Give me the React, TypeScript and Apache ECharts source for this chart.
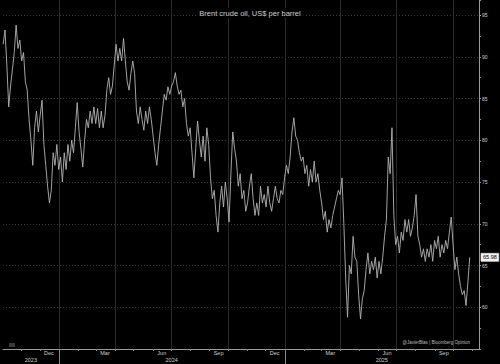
import React, { useEffect, useRef } from "react";
import * as echarts from "echarts";

const TITLE = "Brent crude oil, US$ per barrel";
const SOURCE = "@JavierBlas | Bloomberg Opinion";
const START = [2023, 9, 3]; // 3 Oct 2023 (UTC, month 0-based)
const STEP_DAYS = 3;
const X_MIN = Date.UTC(2023, 9, 2, 18);
const X_MAX = Date.UTC(2025, 10, 12);

const prices = [
  91.5, 93.2, 89.0, 84.0, 86.5, 88.5, 90.5, 93.8, 91.0, 92.0,
  89.5, 90.5, 87.0, 86.0, 82.5, 80.0, 77.0, 81.5, 83.5, 81.0,
  83.0, 84.8, 79.5, 77.0, 74.5, 72.5, 74.0, 78.5, 77.0, 79.5,
  76.5, 78.0, 75.0, 78.5, 76.5, 79.5, 77.5, 80.0, 78.5, 81.5,
  84.5, 81.0, 79.0, 76.8, 80.0, 82.5, 81.5, 83.5, 82.0, 84.0,
  82.0, 83.8, 81.5, 83.5, 81.5, 83.0, 86.0, 87.5, 85.5, 86.5,
  89.0, 91.5, 89.5, 91.0, 89.5, 92.2, 89.5, 87.0, 86.0, 88.0,
  89.5, 88.0, 83.5, 82.0, 84.0, 82.5, 81.2, 83.5, 82.0, 84.0,
  82.5, 80.5, 78.5, 77.0, 79.5, 81.5, 83.5, 85.5, 84.8, 86.4,
  85.5, 86.5, 87.0, 88.1, 86.5, 85.5, 86.0, 84.0, 85.0, 82.0,
  80.5, 81.5, 78.5, 75.5, 79.0, 82.3, 80.0, 78.0, 80.5, 77.5,
  81.5, 79.5, 75.5, 73.0, 74.0, 71.0, 69.0, 72.5, 74.5, 72.0,
  75.0, 73.0, 70.2, 76.0, 81.0, 79.0, 77.5, 74.5, 76.0, 73.0,
  74.0, 71.5, 72.5, 74.5, 76.0, 73.0, 71.0, 72.5, 71.0, 74.5,
  72.5, 73.5, 72.0, 74.5, 72.5, 71.5, 73.0, 74.5, 73.0, 72.5,
  74.0, 73.5, 75.5, 77.0, 76.0, 78.0, 81.0, 82.7, 80.5, 80.0,
  78.5, 77.5, 78.0, 76.0, 77.0, 74.5, 76.5, 75.0, 77.5, 75.0,
  76.0, 74.0, 72.5, 70.5, 71.5, 69.0, 70.5, 69.5, 71.0, 72.0,
  73.0, 74.0, 73.5, 75.5, 70.0, 63.5, 58.8, 65.0, 64.0, 68.5,
  66.0, 65.5, 61.5, 58.6, 61.0, 62.0, 64.5, 66.5, 64.0, 65.5,
  64.5, 66.0, 63.5, 65.5, 64.0, 66.0, 68.5, 70.5, 78.0, 76.0,
  81.5, 71.0, 67.5, 68.5, 66.5, 69.0, 68.0, 70.5, 69.0, 70.5,
  68.5, 69.5, 71.0, 73.5, 68.5, 67.5, 66.0, 67.0, 65.5, 67.0,
  66.0, 67.5, 65.5, 68.0, 67.0, 68.5, 66.0, 67.5, 66.5, 68.0,
  67.0, 69.0, 70.8, 67.5, 64.5, 66.0, 64.0, 62.5, 61.5, 62.0,
  60.2, 63.0, 65.98,
];

const yTicks = [60, 65, 70, 75, 80, 85, 90, 95];
const quarterStarts = [
  "2024-01-01", "2024-04-01", "2024-07-01", "2024-10-01",
  "2025-01-01", "2025-04-01", "2025-07-01", "2025-10-01",
];
const monthLabels = ["Dec", "Mar", "Jun", "Sep", "Dec", "Mar", "Jun", "Sep"];
const monthLabelDates = [
  "2023-12-16", "2024-03-16", "2024-06-16", "2024-09-16",
  "2024-12-16", "2025-03-16", "2025-06-16", "2025-09-16",
];
const years = [2023, 2024, 2025];

const FONT = "'Liberation Sans', Arial, sans-serif";
const ts = (s: string) => Date.parse(s + "T00:00:00Z");

export default function App() {
  const ref = useRef<HTMLDivElement>(null);
  useEffect(() => {
    document.body.style.margin = "0";
    document.body.style.background = "#000";
    const el = ref.current!;
    const chart = echarts.init(el, null, { renderer: "svg" });
    const t0 = Date.UTC(START[0], START[1], START[2]);
    const data = prices.map((p, i) => [t0 + i * STEP_DAYS * 86400000, p]);

    chart.setOption({
      animation: false,
      backgroundColor: "#000",
      title: {
        text: TITLE,
        left: "center",
        top: 8,
        padding: [1, 3],
        backgroundColor: "#000",
        textStyle: { color: "#cfcfcf", fontSize: 7.5, fontWeight: "normal", fontFamily: FONT },
      },
      grid: { left: 3, right: 21, top: 0, bottom: 15, containLabel: false },
      xAxis: {
        type: "time",
        min: X_MIN,
        max: X_MAX,
        axisLine: { show: true, lineStyle: { color: "#9a9a9a", width: 1 } },
        axisTick: { show: false },
        axisLabel: { show: false },
        splitLine: { show: false },
      },
      yAxis: {
        type: "value",
        position: "right",
        min: 55,
        max: 96.8,
        interval: 5,
        axisLine: { show: true, lineStyle: { color: "#9a9a9a", width: 1 } },
        axisTick: { show: true, length: 2, lineStyle: { color: "#9a9a9a" } },
        minorTick: { show: true, splitNumber: 2, length: 2, lineStyle: { color: "#9a9a9a" } },
        axisLabel: {
          color: "#cfcfcf",
          fontSize: 5,
          fontFamily: FONT,
          margin: 3,
          formatter: (v: number) => (yTicks.includes(v) ? String(v) : ""),
        },
        splitLine: {
          show: true,
          showMinLine: false,
          showMaxLine: false,
          lineStyle: { color: "#3a3a3a", type: [1, 2], width: 1 },
        },
      },
      series: [
        {
          type: "line",
          data,
          showSymbol: false,
          symbol: "none",
          lineStyle: { color: "#b4b4b4", width: 0.9 },
          z: 3,
        },
      ],
    });

    const px = (t: number) => chart.convertToPixel({ xAxisIndex: 0 }, t) as number;
    const py = (v: number) => chart.convertToPixel({ yAxisIndex: 0 }, v) as number;
    const yTop = py(96.8);
    const yAxisLine = py(55);
    const H = 364;
    const graphics: any[] = [];

    quarterStarts.forEach((d) => {
      const x = Math.round(px(ts(d))) + 0.5;
      graphics.push({
        type: "line",
        z: 0,
        silent: true,
        shape: { x1: x, y1: yTop, x2: x, y2: yAxisLine },
        style: { stroke: "#2a2a2a", lineWidth: 1 },
      });
    });

    // monthly ticks
    for (let y = 2023; y <= 2025; y++) {
      for (let m = 0; m < 12; m++) {
        const t = Date.UTC(y, m, 1);
        if (t <= X_MIN || t >= X_MAX) continue;
        const x = Math.round(px(t)) + 0.5;
        graphics.push({
          type: "line",
          z: 1,
          silent: true,
          shape: { x1: x, y1: yAxisLine, x2: x, y2: yAxisLine + 2 },
          style: { stroke: "#8a8a8a", lineWidth: 1 },
        });
      }
    }

    monthLabels.forEach((lab, i) => {
      graphics.push({
        type: "text",
        z: 1,
        silent: true,
        x: px(ts(monthLabelDates[i])),
        y: yAxisLine + 4,
        style: {
          text: lab,
          fill: "#cfcfcf",
          fontSize: 5.5,
          fontFamily: FONT,
          align: "center",
          verticalAlign: "middle",
        },
      });
    });

    years.forEach((yr) => {
      const a = Math.max(X_MIN, Date.UTC(yr, 0, 1));
      const b = Math.min(X_MAX, Date.UTC(yr + 1, 0, 1));
      graphics.push({
        type: "text",
        z: 1,
        silent: true,
        x: (px(a) + px(b)) / 2,
        y: yAxisLine + 10.5,
        style: {
          text: String(yr),
          fill: "#cfcfcf",
          fontSize: 5.5,
          fontFamily: FONT,
          align: "center",
          verticalAlign: "middle",
        },
      });
      if (yr > years[0]) {
        const x = Math.round(px(Date.UTC(yr, 0, 1))) + 0.5;
        graphics.push({
          type: "line",
          z: 1,
          silent: true,
          shape: { x1: x, y1: yAxisLine, x2: x, y2: H },
          style: { stroke: "#8a8a8a", lineWidth: 1 },
        });
      }
    });

    const last = prices[prices.length - 1];
    const axisX = px(X_MAX);
    graphics.push({
      type: "text",
      z: 10,
      silent: true,
      x: axisX + 2,
      y: py(last),
      style: {
        text: last.toFixed(2),
        fill: "#000",
        backgroundColor: "#f2f2f2",
        borderColor: "#999",
        borderWidth: 0.5,
        padding: [1, 2],
        fontSize: 5.5,
        fontFamily: FONT,
        align: "left",
        verticalAlign: "middle",
      },
    });

    graphics.push({
      type: "text",
      z: 5,
      silent: true,
      x: 470,
      y: yAxisLine - 7,
      style: {
        text: SOURCE,
        fill: "#bdbdbd",
        fontSize: 4.5,
        fontFamily: FONT,
        align: "right",
        verticalAlign: "middle",
      },
    });

    graphics.push({
      type: "rect",
      z: 5,
      silent: true,
      shape: { x: 9, y: yAxisLine - 6, width: 6, height: 4 },
      style: { fill: "#3a3a3a" },
    });

    chart.setOption({ graphic: graphics });

    return () => chart.dispose();
  }, []);

  return (
    <div
      ref={ref}
      style={{ position: "fixed", left: 0, top: 0, width: 500, height: 364, background: "#000" }}
    />
  );
}
